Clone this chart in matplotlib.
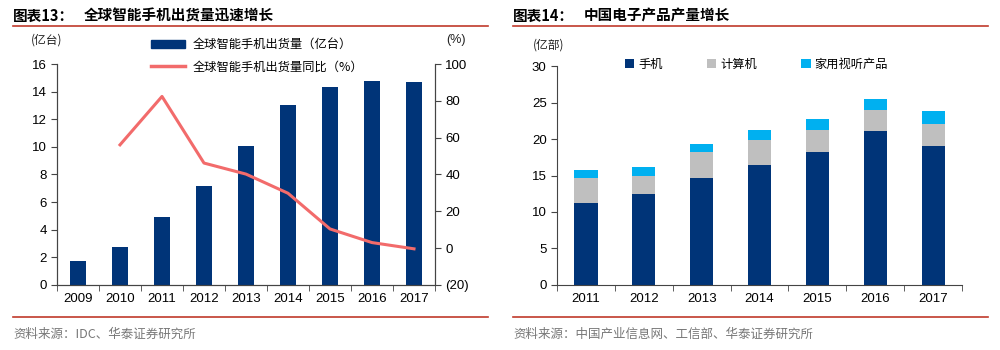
import numpy as np
import matplotlib
matplotlib.use("Agg")
import matplotlib.pyplot as plt
from matplotlib.patches import Patch
from matplotlib.lines import Line2D

plt.rcParams['font.family'] = ['Liberation Sans', 'Noto Sans CJK SC', 'DejaVu Sans']

# chart 13 data
years13 = ['2009', '2010', '2011', '2012', '2013', '2014', '2015', '2016', '2017']
shipments = [1.76, 2.71, 4.93, 7.18, 10.08, 13.03, 14.36, 14.74, 14.67]
yoy_years = ['2010', '2011', '2012', '2013', '2014', '2015', '2016', '2017']
yoy = [56.1, 82.4, 46.2, 40.2, 29.8, 10.4, 3.0, -0.4]

# chart 14 data
years14 = ['2011', '2012', '2013', '2014', '2015', '2016', '2017']
phones = [11.3, 12.5, 14.65, 16.45, 18.2, 21.1, 19.05]
computers = [3.4, 2.4, 3.6, 3.4, 3.1, 2.85, 3.05]
av_products = [1.05, 1.25, 1.05, 1.45, 1.4, 1.6, 1.8]

navy = '#003478'
red = '#F26B6B'
gray = '#BFBFBF'
cyan = '#00B0F0'
title_red = '#C0392B'
cjk = ['Noto Sans CJK SC', 'DejaVu Sans']

fig = plt.figure(figsize=(10, 3.5), dpi=100)

def style_axis(ax, n):
    ax.set_xlim(-0.5, n - 0.5)
    ax.set_xticks(range(n))
    ax.set_xticks(np.arange(-0.5, n, 1), minor=True)
    ax.tick_params(axis='x', which='major', length=0, pad=6, labelsize=9.5)
    ax.tick_params(axis='x', which='minor', length=4, direction='out', color='#444444')
    ax.tick_params(axis='y', length=4, direction='out', color='#444444', labelsize=9.5)
    ax.spines['top'].set_visible(False)
    for s in ax.spines.values():
        s.set_color('#444444')
        s.set_linewidth(0.8)

# ---- left chart ----
ax1 = fig.add_axes([0.057, 0.186, 0.378, 0.631])
x13 = np.arange(len(years13))
ax1.bar(x13, shipments, width=0.4, color=navy)
ax1.set_ylim(0, 16)
ax1.set_yticks(range(0, 17, 2))
ax1.set_xticklabels(years13)
style_axis(ax1, len(years13))

ax1b = ax1.twinx()
xs = [years13.index(y) for y in yoy_years]
ax1b.plot(xs, yoy, color=red, lw=2.2)
ax1b.set_ylim(-20, 100)
ax1b.set_yticks(range(-20, 101, 20))
ax1b.set_yticklabels(['(20)'] + [str(v) for v in range(0, 101, 20)])
ax1b.tick_params(axis='y', length=4, direction='out', color='#444444', labelsize=9.5)
ax1b.spines['top'].set_visible(False)
for s in ax1b.spines.values():
    s.set_color('#444444')
    s.set_linewidth(0.8)

fig.text(0.031, 0.877, '(亿台)', fontsize=8.5, family=cjk, color='#222222')
fig.text(0.446, 0.877, '(%)', fontsize=9, color='#222222')
leg1 = fig.legend(handles=[Patch(color=navy, label='全球智能手机出货量（亿台）'),
                           Line2D([], [], color=red, lw=2.5, label='全球智能手机出货量同比（%）')],
                  loc='upper left', bbox_to_anchor=(0.146, 0.905), frameon=False,
                  prop={'family': cjk, 'size': 8.8}, handlelength=2.8, handleheight=0.6,
                  labelspacing=0.75, handletextpad=0.6, borderaxespad=0)

# ---- right chart ----
ax2 = fig.add_axes([0.557, 0.186, 0.405, 0.625])
x14 = np.arange(len(years14))
ax2.bar(x14, phones, width=0.4, color=navy, label='手机')
ax2.bar(x14, computers, width=0.4, bottom=phones, color=gray, label='计算机')
bottom2 = np.array(phones) + np.array(computers)
ax2.bar(x14, av_products, width=0.4, bottom=bottom2, color=cyan, label='家用视听产品')
ax2.set_ylim(0, 30)
ax2.set_yticks(range(0, 31, 5))
ax2.set_xticklabels(years14)
style_axis(ax2, len(years14))
ax2.spines['right'].set_visible(False)
fig.text(0.533, 0.862, '(亿部)', fontsize=8.5, family=cjk, color='#222222')
ax2.legend(loc='upper left', bbox_to_anchor=(0.155, 1.06), ncol=3, frameon=False,
           prop={'family': cjk, 'size': 8.8}, handlelength=0.8, handleheight=0.8,
           handletextpad=0.3, columnspacing=3.6, borderaxespad=0)

# ---- titles, rules, sources ----
for x0, tag, title in [(0.013, '图表13：', '全球智能手机出货量迅速增长'),
                       (0.513, '图表14：', '中国电子产品产量增长')]:
    fig.text(x0, 0.955, tag, fontsize=10.5, weight='bold', family=cjk, va='center')
    fig.text(x0 + 0.071, 0.955, title, fontsize=10.5, weight='bold', family=cjk, va='center')
for x0, x1 in [(0.013, 0.488), (0.513, 0.988)]:
    fig.add_artist(Line2D([x0, x1], [0.925, 0.925], color=title_red, lw=1.2))
    fig.add_artist(Line2D([x0, x1], [0.094, 0.094], color=title_red, lw=1.2))
fig.text(0.013, 0.046, '资料来源：IDC、华泰证券研究所', fontsize=9, family=cjk,
         color='#777777', va='center')
fig.text(0.513, 0.046, '资料来源：中国产业信息网、工信部、华泰证券研究所', fontsize=9, family=cjk,
         color='#777777', va='center')

fig.savefig('out.png', dpi=100)
